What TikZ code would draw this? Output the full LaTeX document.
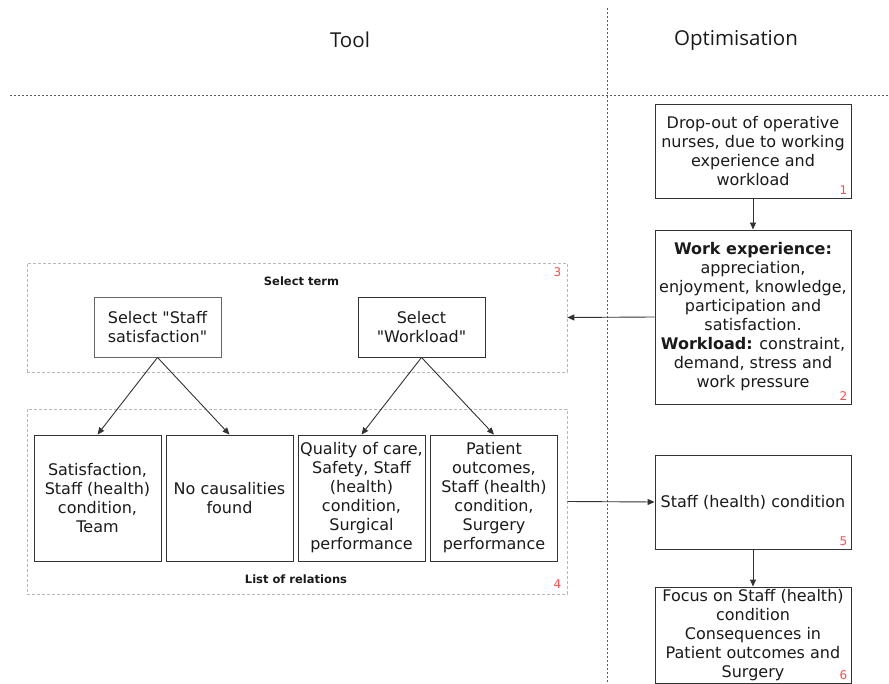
\documentclass[tikz,border=0pt]{standalone}
\usepackage{fontspec}
\setmainfont{DejaVu Sans}
\newfontfamily\headfont{Open Sans}
\usetikzlibrary{arrows.meta}
\definecolor{ink}{HTML}{1A1A1A}
\definecolor{edge}{HTML}{333333}
\definecolor{grp}{HTML}{B8B8B8}
\definecolor{tag}{HTML}{FF4D4D}
% straight double quote, taken directly from the font's glyph table
\newcommand{\dq}{\XeTeXglyph\XeTeXglyphindex "quotedbl"\relax}
\tikzset{
  box/.style={draw=edge, line width=0.9pt, rectangle, inner sep=0pt, align=center,
    text=ink, font=\fontsize{16}{19}\selectfont},
  group/.style={draw=grp, line width=0.7pt, dash pattern=on 3pt off 2pt, rectangle, inner sep=0pt},
  grouplabel/.style={font=\fontsize{11.5}{14}\selectfont\bfseries, text=ink, inner sep=0pt},
  num/.style={font=\fontsize{12}{14}\selectfont, text=tag, inner sep=0pt},
  head/.style={font=\headfont\fontsize{20.5}{24}\selectfont, text=ink, inner sep=0pt},
  link/.style={draw=edge, line width=0.9pt, -{Triangle[length=7pt,width=6pt]}},
  divider/.style={draw=edge!80, line width=0.7pt, dash pattern=on 2pt off 2pt}
}
\begin{document}
\begin{tikzpicture}[x=1pt,y=-1pt]
  \useasboundingbox (0,0) rectangle (889,684);

  % column dividers and headings
  \coordinate (vtop) at (607,8);
  \coordinate (vbot) at (607,684);
  \coordinate (hl) at (10,95);
  \coordinate (hr) at (889,95);
  \draw[divider] (vtop) -- (vbot);
  \draw[divider] (hl) -- (hr);
  \node[head] (tool) at (350,40) {Tool};
  \node[head] (opt) at (736,40) {Optimisation};

  % groups on the tool side
  \node[group, minimum width=540pt, minimum height=109pt] (grp3) at (297,317.5) {};
  \node[grouplabel] (grp3lab) at (301.5,281) {Select term};
  \node[group, minimum width=540pt, minimum height=185pt] (grp4) at (297,501.5) {};
  \node[grouplabel] (grp4lab) at (296,579) {List of relations};

  % optimisation column
  \node[box, minimum width=196pt, minimum height=94pt] (b1) at (753,151)
    {Drop-out of operative\\nurses, due to working\\experience and\\workload};
  \node[box, minimum width=196pt, minimum height=174pt] (b2) at (753,317)
    {\textbf{Work experience:}\\appreciation,\\enjoyment, knowledge,\\participation and\\satisfaction.\\\textbf{Workload:} constraint,\\demand, stress and\\work pressure};
  \node[box, minimum width=196pt, minimum height=94pt] (b5) at (753,502)
    {Staff (health) condition};
  \node[box, minimum width=196pt, minimum height=96pt] (b6) at (753,635)
    {Focus on Staff (health)\\condition\\Consequences in\\Patient outcomes and\\Surgery};

  % term selection
  \node[box, draw=edge!75, minimum width=127pt, minimum height=60pt] (s1) at (157.5,327)
    {Select \dq Staff\\satisfaction\dq};
  \node[box, minimum width=127pt, minimum height=60pt] (s2) at (421.5,327)
    {Select\\\dq Workload\dq};

  % relations found
  \node[box, minimum width=127pt, minimum height=126pt] (r1) at (97.5,498)
    {Satisfaction,\\Staff (health)\\condition,\\Team};
  \node[box, minimum width=127pt, minimum height=126pt] (r2) at (229.5,498)
    {No causalities\\found};
  \node[box, minimum width=127pt, minimum height=126pt] (r3) at (361.5,498)
    {Quality of care,\\Safety, Staff\\(health)\\condition,\\Surgical\\performance};
  \node[box, minimum width=127pt, minimum height=126pt] (r4) at (494,498)
    {Patient\\outcomes,\\Staff (health)\\condition,\\Surgery\\performance};

  % step numbers
  \node[num, anchor=south east] (t1) at ([shift={(-4pt,4pt)}]b1.south east) {1};
  \node[num, anchor=south east] (t2) at ([shift={(-4pt,4pt)}]b2.south east) {2};
  \node[num, anchor=north east] (t3) at ([shift={(-6pt,-5pt)}]grp3.north east) {3};
  \node[num, anchor=south east] (t4) at ([shift={(-6pt,6pt)}]grp4.south east) {4};
  \node[num, anchor=south east] (t5) at ([shift={(-4pt,4pt)}]b5.south east) {5};
  \node[num, anchor=south east] (t6) at ([shift={(-4pt,4pt)}]b6.south east) {6};

  % connectors
  \draw[link] (b1) -- (b2);
  \draw[link] (b2.west) -- (grp3.east);
  \draw[link] (s1.south) -- (r1.north);
  \draw[link] (s1.south) -- (r2.north);
  \draw[link] (s2.south) -- (r3.north);
  \draw[link] (s2.south) -- (r4.north);
  \draw[link] (grp4.east) -- (b5.west);
  \draw[link] (b5) -- (b6);
\end{tikzpicture}
\end{document}
